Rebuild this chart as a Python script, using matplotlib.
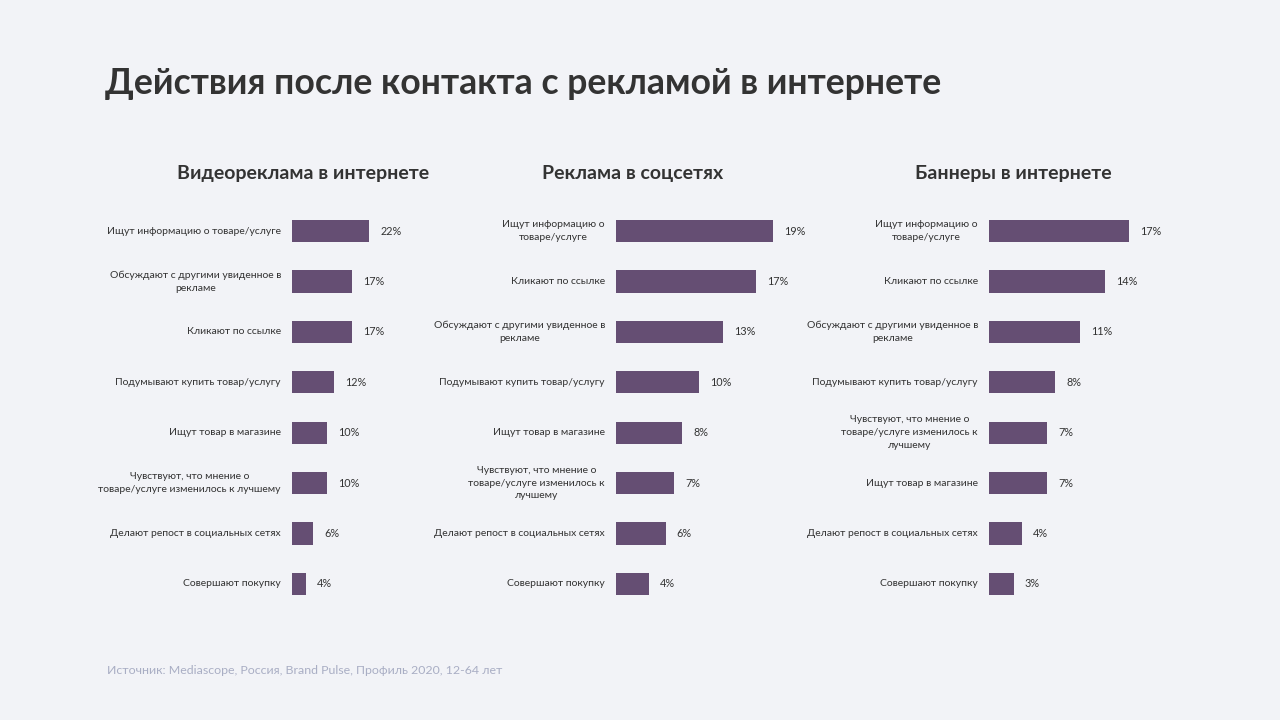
import matplotlib.pyplot as plt

plt.rcParams['font.family'] = ['Lato', 'DejaVu Sans']

bg = '#f2f3f7'
bar_color = '#654e73'
text_color = '#333333'

title = 'Действия после контакта с рекламой в интернете'
source = 'Источник: Mediascope, Россия, Brand Pulse, Профиль 2020, 12-64 лет'

video_title = 'Видеореклама в интернете'
video_labels = ['Ищут информацию о товаре/услуге',
                'Обсуждают с другими увиденное в\nрекламе',
                'Кликают по ссылке',
                'Подумывают купить товар/услугу',
                'Ищут товар в магазине',
                'Чувствуют, что мнение о\nтоваре/услуге изменилось к лучшему',
                'Делают репост в социальных сетях',
                'Совершают покупку']
video_values = [22, 17, 17, 12, 10, 10, 6, 4]

social_title = 'Реклама в соцсетях'
social_labels = ['Ищут информацию о\nтоваре/услуге',
                 'Кликают по ссылке',
                 'Обсуждают с другими увиденное в\nрекламе',
                 'Подумывают купить товар/услугу',
                 'Ищут товар в магазине',
                 'Чувствуют, что мнение о\nтоваре/услуге изменилось к\nлучшему',
                 'Делают репост в социальных сетях',
                 'Совершают покупку']
social_values = [19, 17, 13, 10, 8, 7, 6, 4]

banner_title = 'Баннеры в интернете'
banner_labels = ['Ищут информацию о\nтоваре/услуге',
                 'Кликают по ссылке',
                 'Обсуждают с другими увиденное в\nрекламе',
                 'Подумывают купить товар/услугу',
                 'Чувствуют, что мнение о\nтоваре/услуге изменилось к\nлучшему',
                 'Ищут товар в магазине',
                 'Делают репост в социальных сетях',
                 'Совершают покупку']
banner_values = [17, 14, 11, 8, 7, 7, 4, 3]

W, H = 1280, 720
fig = plt.figure(figsize=(12.8, 7.2), dpi=100, facecolor=bg)

fig.text(105/W, 1-84/H, title, fontsize=25.7, fontweight='bold', color=text_color,
         ha='left', va='center')
fig.text(107/W, 1-670/H, source, fontsize=8.9, color='#a9aec4', ha='left', va='center')

# (left px, xmax, title center px, title, labels, values)
panels = [(292, 51.4, 303, video_title, video_labels, video_values),
          (616, 21.8, 633, social_title, social_labels, social_values),
          (989, 21.8, 1013, banner_title, banner_labels, banner_values)]

top, bottom = 206, 609
for left, xmax, tc, ptitle, labels, values in panels:
    ax = fig.add_axes([left/W, 1-bottom/H, 180/W, (bottom-top)/H])
    ax.set_facecolor('none')
    y = list(range(len(values)))
    ax.barh(y, values, height=0.44, color=bar_color)
    ax.set_xlim(0, xmax)
    ax.set_ylim(len(values)-0.5, -0.5)
    ax.axis('off')
    for yi, lab, v in zip(y, labels, values):
        ax.annotate(lab, (0, yi), xytext=(-8, 0), textcoords='offset points',
                    ha='right', va='center', multialignment='center',
                    fontsize=7.5, color=text_color, linespacing=1.55)
        ax.annotate('%d%%' % v, (v, yi), xytext=(8, 0), textcoords='offset points',
                    ha='left', va='center', fontsize=7.8, color=text_color)
    fig.text(tc/W, 1-173/H, ptitle, fontsize=14, fontweight='bold', color=text_color,
             ha='center', va='center')

fig.savefig('out.png', dpi=100, facecolor=bg)
